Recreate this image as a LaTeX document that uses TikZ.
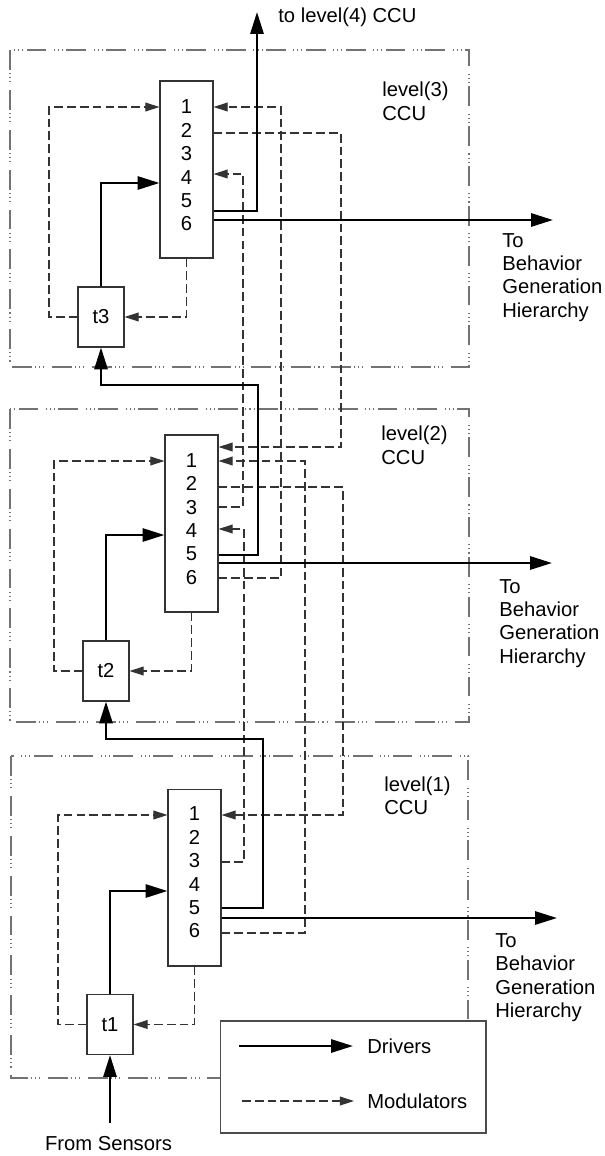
\documentclass[tikz,border=0pt]{standalone}
\usepackage{fontspec}
\setmainfont{Liberation Sans}
\usetikzlibrary{arrows.meta}

\begin{document}
\begin{tikzpicture}[
    x=0.02cm, y=-0.02cm,
    every node/.style={font=\fontsize{11.5pt}{13.3pt}\selectfont},
    ccu/.style={rectangle, draw=black!80, line width=0.6pt, minimum width=1.06cm, minimum height=3.54cm, inner sep=0pt},
    tbox/.style={rectangle, draw=black!80, line width=0.6pt, minimum width=0.92cm, minimum height=1.2cm, inner sep=0pt},
    digits/.style={align=center, inner sep=0pt},
    sidetext/.style={align=left, anchor=north west, inner sep=0pt},
    levelbox/.style={draw=black!55, line width=0.6pt, dash pattern=on 11.3pt off 1.9pt on 0.6pt off 1.7pt on 0.6pt off 1.7pt on 0.6pt off 4.3pt},
    driver/.style={line width=1.4pt, -{Triangle[length=12.5pt, width=7.5pt]}},
    modulator/.style={draw=black!80, line width=0.65pt, dash pattern=on 5pt off 2.3pt, -{Triangle[length=8pt, width=5pt]}},
]
    \useasboundingbox (0,0) rectangle (605,1156);

    % Level frames
    \draw[levelbox] (10,50) rectangle (469,367);
    \draw[levelbox] (10,409) rectangle (469,722);
    \draw[levelbox] (11,756) rectangle (468,1078);

    % Level 3
    \node[ccu] (c3) at (186.5,169.5) {};
    \node[digits] (d3) at (186.5,165.5) {1\\2\\3\\4\\5\\6};
    \node[tbox] (t3) at (101,317) {t3};
    \node[sidetext] (l3) at (382,82) {level(3)\\CCU};
    \coordinate (top4) at (257,12);
    \node[anchor=base west, inner sep=0pt] (up4) at (278,22.5) {to level(4) CCU};
    \coordinate (bgh3) at (553,220);
    \node[sidetext] (b3) at (502,233) {To\\Behavior\\Generation\\Hierarchy};

    % Level 2
    \node[ccu] (c2) at (191.5,523.5) {};
    \node[digits] (d2) at (191.5,519) {1\\2\\3\\4\\5\\6};
    \node[tbox] (t2) at (106,671) {t2};
    \node[sidetext] (l2) at (381,426) {level(2)\\CCU};
    \coordinate (bgh2) at (552,563);
    \node[sidetext] (b2) at (499,579) {To\\Behavior\\Generation\\Hierarchy};

    % Level 1
    \node[ccu] (c1) at (194.5,877.5) {};
    \node[digits] (d1) at (194.5,872.5) {1\\2\\3\\4\\5\\6};
    \node[tbox] (t1) at (110,1024.5) {t1};
    \node[sidetext] (l1) at (384,776) {level(1)\\CCU};
    \coordinate (bgh1) at (557,918);
    \node[sidetext] (b1) at (495,933) {To\\Behavior\\Generation\\Hierarchy};
    \coordinate (src) at (110,1123);
    \node[anchor=base, inner sep=0pt] (sens) at (108.5,1150.7) {From Sensors};

    % Modulators inside each level
    \draw[modulator] (t3.west) -| (49,107) -- (c3.west |- 0,107);
    \draw[modulator] (c3.south) |- (t3.east);
    \draw[modulator] (t2.west) -| (54,461) -- (c2.west |- 0,461);
    \draw[modulator] (c2.south) |- (t2.east);
    \draw[modulator] (t1.west) -| (58,815) -- (c1.west |- 0,815);
    \draw[modulator] (c1.south) |- (t1.east);

    % Modulators between levels
    \draw[modulator] (c2.east |- 0,578) -| (281,107) -- (c3.east |- 0,107);
    \draw[modulator] (c3.east |- 0,133) -| (341,447) -- (c2.east |- 0,447);
    \draw[modulator] (c2.east |- 0,507) -| (243,174) -- (c3.east |- 0,174);
    \draw[modulator] (c1.east |- 0,933) -| (305,461) -- (c2.east |- 0,461);
    \draw[modulator] (c2.east |- 0,487) -| (343,815) -- (c1.east |- 0,815);
    \draw[modulator] (c1.east |- 0,862) -| (244,529) -- (c2.east |- 0,529);

    % Drivers
    \draw[driver] (src) -- (t1.south);
    \draw[driver] (t1.north) |- (c1.west |- 0,891);
    \draw[driver] (c1.east |- 0,908) -| (263,739) -| (t2.south);
    \draw[driver] (t2.north) |- (c2.west |- 0,535);
    \draw[driver] (c2.east |- 0,555) -| (258,385) -| (t3.south);
    \draw[driver] (t3.north) |- (c3.west |- 0,183);
    \draw[driver] (c3.east |- 0,211) -| (top4);
    \draw[driver] (c3.east |- 0,220) -- (bgh3);
    \draw[driver] (c2.east |- 0,563) -- (bgh2);
    \draw[driver] (c1.east |- 0,918) -- (bgh1);

    % Legend
    \node[draw=black!70, fill=white, line width=0.6pt, minimum width=5.32cm, minimum height=2.24cm] (legend) at (353,1077) {};
    \node[anchor=west, inner sep=0pt] (drv) at (367,1046) {Drivers};
    \node[anchor=west, inner sep=0pt] (mod) at (367,1101) {Modulators};
    \coordinate (drvA) at (239,1046);
    \coordinate (modA) at (242,1101);
    \draw[driver] (drvA) -- ([xshift=-0.28cm]drv.west);
    \draw[modulator] (modA) -- ([xshift=-0.26cm]mod.west);
\end{tikzpicture}
\end{document}
